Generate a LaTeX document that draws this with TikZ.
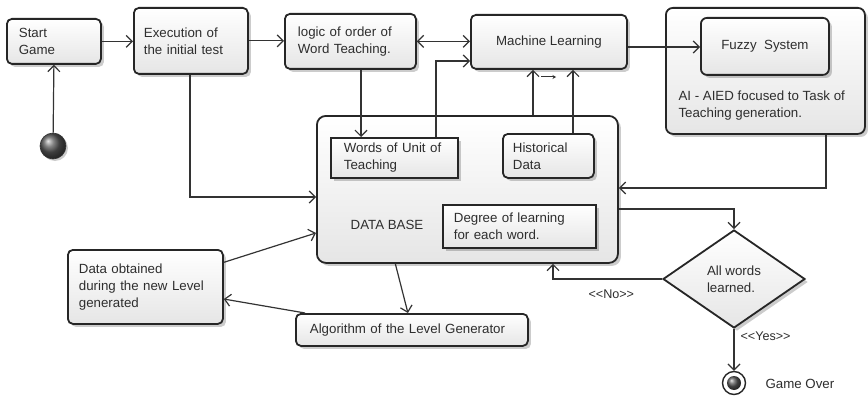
\documentclass[tikz,border=0pt]{standalone}
\usepackage{fontspec}
\setmainfont{Liberation Sans}
\usetikzlibrary{arrows.meta,shapes.geometric,shadows,calc}
\begin{document}
\begin{tikzpicture}[x=1pt,y=-1pt,
  txt/.style={font=\fontsize{13.3}{17}\selectfont, text=black!82},
  smalltxt/.style={font=\fontsize{12.6}{14}\selectfont, text=black!82},
  panel/.style={draw=black!85, line width=1.8pt, top color=white, bottom color=black!10,
     drop shadow={shadow xshift=3pt, shadow yshift=-3pt, opacity=0.2, fill=black}},
  rbox/.style={panel, rounded corners=5pt, anchor=north west, inner sep=0pt, txt, align=left},
  sbox/.style={panel, anchor=north west, inner sep=0pt, txt, align=left},
  tip/.tip={Straight Barb[length=6pt,width=12pt]},
  link/.style={draw=black!80, line width=1.2pt, -tip},
]
\fill[white] (0,0) rectangle (868,396);
\useasboundingbox (0,0) rectangle (868,396);

% containers first, so the boxes inside sit on top
\node[panel, rounded corners=9pt, anchor=north west, minimum width=301pt, minimum height=147pt, inner sep=0pt] (db) at (316,115) {};
\node[txt] (dbtext) at (387,225) {DATA BASE};
\node[panel, rounded corners=7pt, anchor=north west, minimum width=199pt, minimum height=126pt, inner sep=0pt] (ai) at (665,7) {};
\node[txt, anchor=west, align=left] (aitext) at (675,106) {AI - AIED focused to Task of\\Teaching generation.};

% activity boxes
\node[rbox, minimum width=94pt, minimum height=45pt, text width=70pt] (start) at (6,18) {Start\\Game};
\node[rbox, minimum width=114pt, minimum height=66pt, text width=94pt] (exec) at (133,7) {Execution of\\the initial test};
\node[rbox, minimum width=131pt, minimum height=55pt, text width=105pt] (logic) at (284,13) {logic of order of\\Word Teaching.};
\node[rbox, minimum width=156pt, minimum height=54pt, align=center] (ml) at (470,14) {Machine Learning};
\node[rbox, rounded corners=6pt, minimum width=128pt, minimum height=57pt, align=center] (fuzzy) at (700,17) {Fuzzy\ \ System};
\node[sbox, minimum width=127pt, minimum height=40pt, text width=101pt] (words) at (330,137) {Words of Unit of\\Teaching};
\node[rbox, minimum width=91pt, minimum height=44pt, text width=71pt] (hist) at (502,133) {Historical\\Data};
\node[sbox, minimum width=153pt, minimum height=43pt, text width=131pt] (degree) at (442,204) {Degree of learning\\for each word.};
\node[rbox, minimum width=155pt, minimum height=74pt, text width=133pt] (dataobt) at (67,249) {Data obtained\\during the new Level\\generated};
\node[rbox, minimum width=232pt, minimum height=32pt, text width=204pt] (algo) at (295,313) {Algorithm of the Level Generator};
\node[panel, diamond, minimum width=142pt, minimum height=98pt, inner sep=0pt, txt, align=left] (dec) at (734,279) {All words\\learned.};

% start and end points
\node[circle, minimum size=26pt, inner sep=0pt, ball color=black!65, draw=black!80, line width=0.6pt,
      drop shadow={shadow xshift=2pt, shadow yshift=-2pt, opacity=0.2, fill=black}] (init) at (53,146) {};
\node[circle, minimum size=23pt, inner sep=0pt, draw=black!85, line width=1.4pt, fill=white] (fin) at (734,383) {};
\node[circle, minimum size=14pt, inner sep=0pt, ball color=black!65] (finball) at (fin) {};

% bend points
\coordinate (kWords) at (436,61);
\coordinate (kLogic) at (361,0);
\coordinate (kDb) at (533,0);
\coordinate (kHist) at (573,0);
\coordinate (kMf) at (0,47);
\coordinate (kAi) at (826,188);
\coordinate (kExec) at (190,197);
\coordinate (kDec) at (0,209);
\coordinate (kNo) at (553,0);
\coordinate (kDb2) at (0,233);
\coordinate (m1) at (541,77);
\coordinate (m2) at (556,77);

% connectors
\draw[link] (init) -- (start.south);
\draw[link] (start.east) -- (exec.west |- start.east);
\draw[link] (exec.east) -- (logic.west |- exec.east);
\draw[link, tip-tip] (logic.east) -- (ml.west |- logic.east);
\draw[link] (words.north -| kWords) |- (ml.west |- kWords);
\draw[link] (logic.south -| kLogic) -- (words.north -| kLogic);
\draw[link] (db.north -| kDb) -- (ml.south -| kDb);
\draw[link] (hist.north -| kHist) -- (ml.south -| kHist);
\draw[draw=black!80, line width=1pt, -{Stealth[length=3.5pt,width=4pt]}] (m1) -- (m2);
\draw[link] (ml.east |- kMf) -- (fuzzy.west |- kMf);
\draw[link] (ai.south -| kAi) |- (db.east |- kAi);
\draw[link] (exec.south -| kExec) |- (db.west |- kExec);
\draw[link] (db.east |- kDec) -| (dec.north);
\draw[link] (dec.west) -| (db.south -| kNo);
\draw[link] (dec.south) -- (fin.north);
\draw[link] ($(dataobt.north east)!0.176!(dataobt.south east)$) -- (db.west |- kDb2);
\draw[link] ($(db.south west)!0.262!(db.south east)$) -- ($(algo.north west)!0.483!(algo.north east)$);
\draw[link] ($(algo.north west)!0.043!(algo.north east)$) -- ($(dataobt.north east)!0.66!(dataobt.south east)$);

% labels
\node[smalltxt, anchor=west] (nolbl) at (585,294) {<\kern0pt<No>\kern0pt>};
\node[smalltxt, anchor=west] (yeslbl) at (737,336) {<\kern0pt<Yes>\kern0pt>};
\node[txt, anchor=west] (golbl) at (762,384) {Game Over};
\end{tikzpicture}
\end{document}
